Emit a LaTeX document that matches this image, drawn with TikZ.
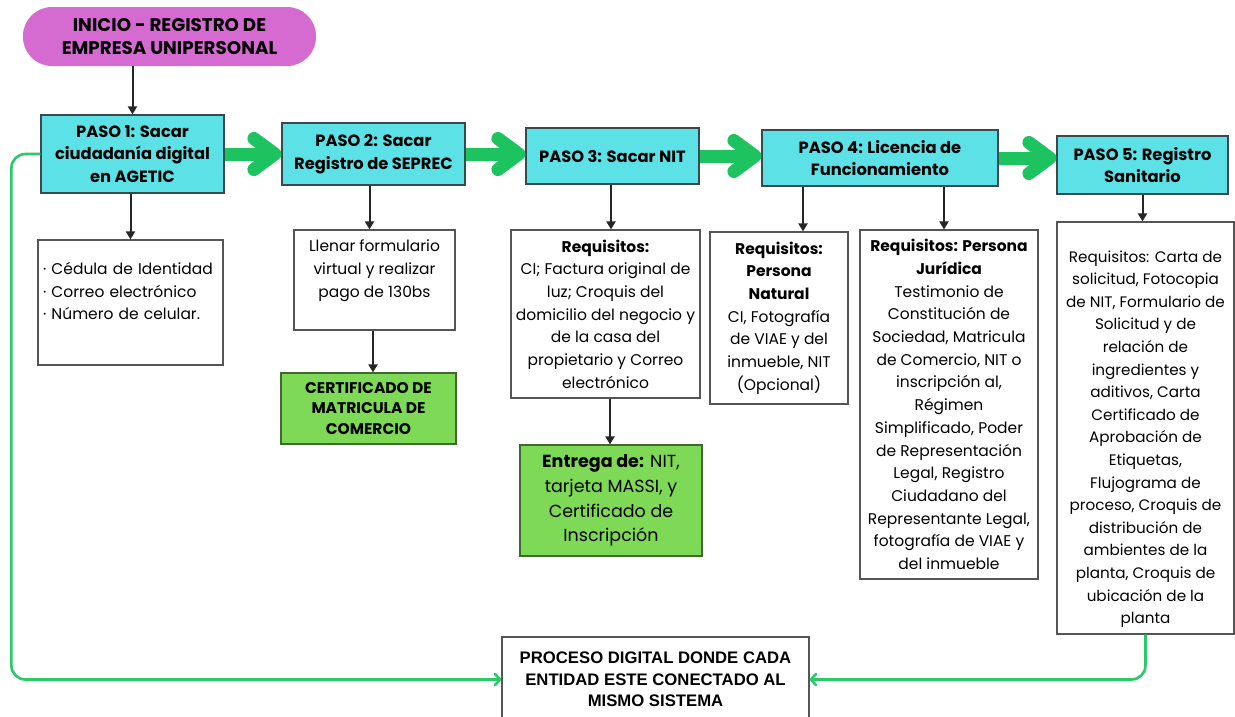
\documentclass[tikz,border=0pt]{standalone}
\usepackage{fontspec}
\setmainfont{Poppins}
\newfontfamily\finfont{Liberation Sans}
\usetikzlibrary{arrows.meta,calc}
\definecolor{cyanbox}{HTML}{5CE1E6}
\definecolor{pinkbox}{HTML}{D56BD1}
\definecolor{greenbox}{HTML}{7ED957}
\definecolor{greenarrow}{HTML}{1DC35F}
\definecolor{greenline}{HTML}{2BC96A}
\definecolor{boxline}{HTML}{555555}
\definecolor{pasoline}{HTML}{3A4A4C}
\definecolor{certline}{HTML}{3E6A2E}
\begin{document}
\begin{tikzpicture}[x=1pt,y=-1pt,
  whitebox/.style={draw=boxline, line width=1.2pt, fill=white, inner sep=0pt, align=center,
    font=\fontsize{15.5}{22.7}\selectfont},
  pasobox/.style={draw=pasoline, line width=1.2pt, fill=cyanbox, inner sep=0pt, align=center,
    font=\bfseries\fontsize{16.3}{22.5}\selectfont},
  startbox/.style={fill=pinkbox, rounded corners=29pt, inner sep=0pt, align=center,
    font=\bfseries\fontsize{18.3}{23.5}\selectfont},
  certbox/.style={draw=certline, line width=1.2pt, fill=greenbox, inner sep=0pt, align=center,
    font=\bfseries\fontsize{15.5}{20.5}\selectfont},
  entregabox/.style={draw=certline, line width=1.2pt, fill=greenbox, inner sep=0pt, align=center,
    font=\fontsize{17.5}{24.7}\selectfont},
  finbox/.style={draw=boxline, line width=1.2pt, fill=white, inner sep=0pt, align=center,
    font=\finfont\bfseries\fontsize{16.7}{21.5}\selectfont},
  blackarrow/.style={draw=black!85, line width=2pt, -{Triangle[length=8pt,width=9pt]}},
  bigarrow/.style={draw=greenarrow, line width=13pt, -{Straight Barb[length=21pt,width=31pt,round]}},
  greenconn/.style={draw=greenline, line width=2.6pt, rounded corners=14pt,
    -{Straight Barb[length=5pt,width=11pt,round]}}
]
\useasboundingbox (0,0) rectangle (1235,716);
\fill[white] (0,0) rectangle (1235,716);

% nodes
\node[startbox, minimum width=293pt, minimum height=59pt] (start) at (169.5,36.5)
  {INICIO - REGISTRO DE\\EMPRESA UNIPERSONAL};
\node[pasobox, minimum width=183pt, minimum height=78pt] (p1) at (132.5,154)
  {PASO 1: Sacar\\ciudadanía digital\\en AGETIC};
\node[pasobox, minimum width=183pt, minimum height=62pt] (p2) at (373.5,154)
  {PASO 2: Sacar\\Registro de SEPREC};
\node[pasobox, minimum width=173pt, minimum height=56pt] (p3) at (612.5,156)
  {PASO 3: Sacar NIT};
\node[pasobox, minimum width=236pt, minimum height=56pt] (p4) at (880,158)
  {PASO 4: Licencia de\\Funcionamiento};
\node[pasobox, minimum width=171pt, minimum height=58pt] (p5) at (1142.5,165)
  {PASO 5: Registro\\Sanitario};

\node[whitebox, minimum width=185pt, minimum height=125pt, text width=175pt, align=left] (b1) at (130.5,302.5)
  {· Cédula de Identidad\\· Correo electrónico\\· Número de celular.\\~};
\node[whitebox, minimum width=161pt, minimum height=100pt] (b2) at (374.5,280)
  {Llenar formulario\\virtual y realizar\\pago de 130bs\\~};
\node[certbox, minimum width=175pt, minimum height=71pt] (g2) at (368.5,408.5)
  {CERTIFICADO DE\\MATRICULA DE\\COMERCIO};
\node[whitebox, minimum width=189pt, minimum height=168pt] (b3) at (605.5,314)
  {\textbf{Requisitos:}\\CI; Factura original de\\luz; Croquis del\\domicilio del negocio y\\de la casa del\\propietario y Correo\\electrónico};
\node[entregabox, minimum width=182pt, minimum height=111pt] (g3) at (611,500.5)
  {\textbf{Entrega de:} NIT,\\tarjeta MASSI, y\\Certificado de\\Inscripción};
\node[whitebox, minimum width=138pt, minimum height=172pt] (b4a) at (779,318)
  {\textbf{Requisitos:}\\\textbf{Persona}\\\textbf{Natural}\\CI, Fotografía\\de VIAE y del\\inmueble, NIT\\(Opcional)};
\node[whitebox, minimum width=178pt, minimum height=349pt] (b4b) at (949,404.5)
  {\textbf{Requisitos: Persona}\\\textbf{Jurídica}\\Testimonio de\\Constitución de\\Sociedad, Matricula\\de Comercio, NIT o\\inscripción al,\\Régimen\\Simplificado, Poder\\de Representación\\Legal, Registro\\Ciudadano del\\Representante Legal,\\fotografía de VIAE y\\del inmueble};
\node[whitebox, minimum width=177pt, minimum height=412pt] (b5) at (1145.5,428) {};
\node[whitebox, draw=none, fill=none, font=\fontsize{15.2}{22.6}\selectfont] (b5t) at (1145.5,439)
  {Requisitos: Carta de\\solicitud, Fotocopia\\de NIT, Formulario de\\Solicitud y de\\relación de\\ingredientes y\\aditivos, Carta\\Certificado de\\Aprobación de\\Etiquetas,\\Flujograma de\\proceso, Croquis de\\distribución de\\ambientes de la\\planta, Croquis de\\ubicación de la\\planta};
\node[finbox, minimum width=307pt, minimum height=85pt] (fin) at (655.5,679.5)
  {PROCESO DIGITAL DONDE CADA\\ENTIDAD ESTE CONECTADO AL\\MISMO SISTEMA};

% big green arrows
\draw[bigarrow] (p1.east) -- (p1.east -| p2.west);
\draw[bigarrow] (p2.east) -- (p2.east -| p3.west);
\draw[bigarrow] (p3.east) -- (p3.east -| p4.west);
\draw[bigarrow] (p4.east) -- (p4.east -| p5.west);

% black arrows
\draw[blackarrow] (p1.north |- start.south) -- (p1.north);
\draw[blackarrow] (p1.south -| b1.north) -- (b1.north);
\draw[blackarrow] ([xshift=-4pt]p2.south) -- ([xshift=-4pt]p2.south |- b2.north);
\draw[blackarrow] ([xshift=-1.5pt]b2.south) -- ([xshift=-1.5pt]b2.south |- g2.north);
\draw[blackarrow] ([xshift=-1.5pt]p3.south) -- ([xshift=-1.5pt]p3.south |- b3.north);
\draw[blackarrow] ([xshift=4.5pt]b3.south) -- ([xshift=4.5pt]b3.south |- g3.north);
\draw[blackarrow] ([xshift=-77pt]p4.south) -- ([xshift=-77pt]p4.south |- b4a.north);
\draw[blackarrow] ([xshift=64pt]p4.south) -- ([xshift=64pt]p4.south |- b4b.north);
\draw[blackarrow] (p5.south) -- (p5.south |- b5.north);

% green connectors to the final box
\draw[greenconn] (p1.west) -- ++(-29,0) |- (fin.west);
\draw[greenconn] (b5.south) |- (fin.east);
\end{tikzpicture}
\end{document}
